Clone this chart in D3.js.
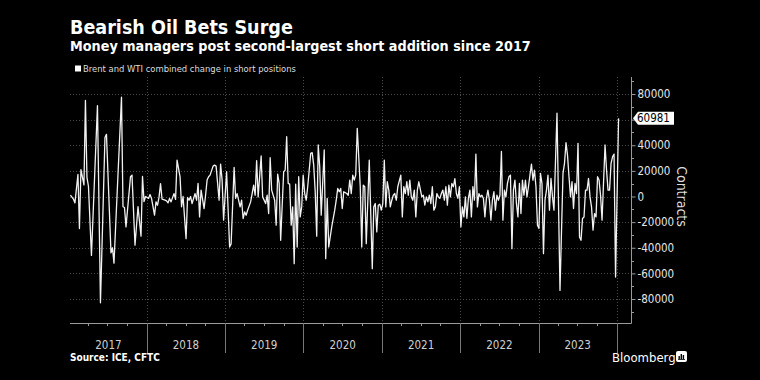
<!DOCTYPE html>
<html><head><meta charset="utf-8">
<script src="https://cdn.jsdelivr.net/npm/d3@7"></script>
<style>
html,body{margin:0;padding:0;background:#000;}
svg{display:block;}
</style></head><body>
<svg id="c" width="760" height="380"></svg>
<script>
const title = "Bearish Oil Bets Surge";
const subtitle = "Money managers post second-largest short addition since 2017";
const legendLabel = "Brent and WTI combined change in short positions";
const sourceText = "Source: ICE, CFTC";
const axisTitle = "Contracts";
const firstReport = "2017-01-10";
// week number after first report (weekly COT data)
const weekNo = [
  0,2,3,5,6,7,9,10,11,12,
  14,18,20,23,24,27,28,29,34,35,
  36,37,40,41,43,45,47,48,49,50,
  52,53,54,56,57,58,59,60,61,63,
  64,65,66,67,69,70,71,73,74,75,
  77,78,79,80,81,83,84,85,86,87,
  89,90,91,92,93,95,96,97,99,100,
  101,102,104,106,107,109,110,111,113,114,
  115,116,117,118,120,121,122,123,124,125,
  127,128,130,131,132,133,134,136,137,138,
  139,140,142,143,144,145,146,147,148,149,
  150,151,152,153,154,155,156,157,158,160,
  161,162,163,164,165,166,167,169,170,171,
  172,174,176,177,178,179,180,181,182,184,
  185,186,187,188,189,190,191,193,194,195,
  196,197,199,201,202,203,204,205,206,207,
  208,209,210,211,212,213,214,215,216,217,
  218,220,221,222,223,224,225,226,227,228,
  229,230,231,232,234,235,236,237,238,239,
  240,241,242,243,244,245,246,247,248,249,
  250,251,252,253,254,255,256,257,258,259,
  260,261,262,263,264,265,266,267,268,269,
  270,271,272,273,274,275,276,277,278,279,
  280,281,282,283,284,285,286,287,288,289,
  290,291,292,293,294,295,296,297,298,299,
  300,301,302,303,304,305,306,307,308,309,
  310,311,312,313,314,315,316,317,318,319,
  320,321,322,324,326,328,329,330,331,332,
  333,334,335,336,337,338,339,340,341,342,
  343,344,345,346,347,348,349,350,351,352,
  353,354,356,357,358,359,360,361,362,363,
  365
];
// Brent and WTI combined change in short positions (contracts)
const shortChange = [
  1000,-2000,-5000,17200,-25000,21000,9000,75000,15000,8000,
  -46000,71000,-83000,46000,48500,-44000,-40000,-52000,77500,-8000,
  -8600,-23700,15400,16700,-38000,-8000,-31000,15600,-4000,0,
  -1500,1500,-1500,-14600,-4200,-6800,-500,10000,-2000,-2900,
  -3400,-5000,-1500,-4200,2300,-2300,28400,15400,-8000,0,
  -32900,-800,-2900,0,-5500,2300,-2900,10200,-15900,5000,
  -9400,1000,12800,15400,16700,23700,24500,23700,-2900,25300,
  12800,-18500,19300,-39400,-37000,22700,-1500,2300,-8100,-2900,
  -17200,-12000,-14600,-10700,-4200,2300,8900,1000,28000,-300,
  31600,-300,-5500,1000,-13300,30300,5000,-2900,-22400,17500,
  10200,-34200,19300,20600,46700,10200,9600,-22400,-8100,-52400,
  9600,-39400,15400,-15900,-8100,16700,2300,-2900,7600,33600,
  34200,24500,3700,-31000,40200,23200,-14600,36300,-48500,-1500,
  -39400,-23700,-10700,-2900,6300,3700,6300,-9400,3700,2300,
  1000,12800,2300,16700,12800,17000,53200,7600,-39400,8900,
  7600,-36800,28400,-56300,-8100,-5500,-27600,-6800,-6000,-10700,
  -5500,28400,-8100,11500,5000,-8100,-2900,1000,2300,-2900,
  7600,16700,-15900,7600,2300,11500,1000,12800,-300,-2900,
  5000,-15900,5000,11500,-300,1000,-6800,-300,-4200,1000,
  -5500,7600,-10700,-8100,2300,-300,-1500,2300,5000,-2900,
  7600,-6800,8900,-300,10200,7600,14000,2300,-1500,7600,
  -23700,-8100,-15900,-300,-17000,-1500,5000,-15900,7600,-2900,
  33100,-8100,2300,-300,1000,-1500,-15900,-1500,5000,-2900,
  -18500,-2900,3700,-10700,1000,-2900,1000,35200,-18500,5000,
  -300,10200,15400,16700,-40700,5000,12800,-5500,-15900,10200,
  -13300,12800,1000,12800,-300,7600,16700,25300,12800,20600,
  7600,-22400,-25000,18000,10200,-44600,-2900,5000,16700,-10700,
  14100,-300,-10700,65000,-73300,18000,25800,42000,32300,15400,
  -300,11500,-9400,10200,2300,41500,-31600,-34200,-17200,-16000,
  5000,5000,14100,-300,-8100,-26300,-13300,-15900,15400,12800,
  1000,-18500,40200,20600,5000,5000,25800,31000,33100,-62900,
  60981
];
const yTicks = [-80000,-60000,-40000,-20000,0,20000,40000,60000,80000];
const yMinorTicks = [-90000,-70000,-50000,-30000,-10000,10000,30000,50000,70000,90000];
const yearLabels = [2017,2018,2019,2020,2021,2022,2023];
const yearBoundaries = ["2018-01-01","2019-01-01","2020-01-01","2021-01-01","2022-01-01","2023-01-01","2024-01-01"];
const quarterTickMonths = [3,6,9];
const lastLabel = "60981";

const svg = d3.select("#c");
const FONT = "'DejaVu Sans Condensed','DejaVu Sans',sans-serif";
const parse = d3.timeParse("%Y-%m-%d");
const start = parse(firstReport);
const data = weekNo.map((w,i)=>({date:d3.timeDay.offset(start, 7*w), value:shortChange[i]}));

const L = 70, R = 631;
const x = d3.scaleTime().domain([new Date(2017,0,8), new Date(2024,2,7)]).range([L, R]);
const y = d3.scaleLinear().domain([-80000, 80000]).range([299, 94]);
const plotTop = 77, plotBottom = 323;

function fit(sel, w){
  const l = sel.node().getComputedTextLength();
  const fs = parseFloat(sel.attr("font-size"));
  sel.attr("font-size", fs*w/l);
}

// titles
fit(svg.append("text").attr("x",70).attr("y",34).attr("fill","#fff").attr("font-family",FONT)
  .attr("font-weight","bold").attr("font-size",18).text(title), 223);
fit(svg.append("text").attr("x",70).attr("y",51).attr("fill","#fff").attr("font-family",FONT)
  .attr("font-weight","bold").attr("font-size",13).text(subtitle), 461);
svg.append("rect").attr("x",75).attr("y",65.5).attr("width",6).attr("height",6).attr("fill","#fff");
fit(svg.append("text").attr("x",83).attr("y",72).attr("fill","#ddd").attr("font-family",FONT)
  .attr("font-size",10).text(legendLabel), 213);

// gridlines
const grid = svg.append("g").attr("stroke","#4a4a4a").attr("stroke-width",1).attr("stroke-dasharray","1,2");
grid.selectAll("line.h").data(yTicks).join("line")
  .attr("x1",L).attr("x2",R).attr("y1",d=>Math.round(y(d))+0.5).attr("y2",d=>Math.round(y(d))+0.5);
grid.selectAll("line.v").data(yearBoundaries.map(parse)).join("line")
  .attr("x1",d=>Math.round(x(d))+0.5).attr("x2",d=>Math.round(x(d))+0.5).attr("y1",plotTop).attr("y2",plotBottom);

// axes lines
const axc = "#9a9a9a";
svg.append("line").attr("x1",L).attr("x2",R+0.5).attr("y1",plotBottom+0.5).attr("y2",plotBottom+0.5).attr("stroke",axc);
svg.append("line").attr("x1",R+0.5).attr("x2",R+0.5).attr("y1",plotTop).attr("y2",plotBottom+0.5).attr("stroke",axc);

// y axis ticks & labels
const ya = svg.append("g").attr("transform",`translate(${R+0.5},0)`)
  .call(d3.axisRight(y).tickValues(yTicks).tickSize(4).tickPadding(2).tickFormat(d=>String(d)));
ya.select(".domain").remove();
ya.selectAll(".tick line").attr("stroke",axc);
ya.selectAll(".tick text").attr("fill","#e6e6e6").attr("font-family",FONT).attr("font-size",11.5);
svg.append("g").selectAll("line").data(yMinorTicks).join("line")
  .attr("x1",R).attr("x2",R+3).attr("y1",d=>Math.round(y(d))+0.5).attr("y2",d=>Math.round(y(d))+0.5).attr("stroke",axc);

svg.append("text").attr("transform",`translate(682,${y(0)}) rotate(90)`).attr("text-anchor","middle")
  .attr("dominant-baseline","central").attr("fill","#ddd").attr("font-family",FONT).attr("font-size",14).text(axisTitle);

// x axis: year separators, quarter ticks, labels
const years = yearBoundaries.map(parse);
svg.append("g").selectAll("line").data(years).join("line")
  .attr("x1",d=>Math.round(x(d))+0.5).attr("x2",d=>Math.round(x(d))+0.5).attr("y1",plotBottom).attr("y2",plotBottom+30).attr("stroke","#777");
const qTicks = [];
yearLabels.forEach(yr=>quarterTickMonths.forEach(m=>qTicks.push(new Date(yr,m,1))));
svg.append("g").selectAll("line").data(qTicks.filter(d=>x(d)>L)).join("line")
  .attr("x1",d=>Math.round(x(d))+0.5).attr("x2",d=>Math.round(x(d))+0.5).attr("y1",plotBottom).attr("y2",plotBottom+3).attr("stroke",axc);
svg.append("g").selectAll("text").data(yearLabels).join("text")
  .attr("x",d=>{const a=Math.max(L,x(new Date(d,0,1))), b=x(new Date(d+1,0,1)); return (a+b)/2;})
  .attr("y",349).attr("text-anchor","middle").attr("fill","#d0d0d0").attr("font-family",FONT).attr("font-size",11.5).text(d=>d);

// line
svg.append("path").datum(data).attr("fill","none").attr("stroke","#f2f2f2").attr("stroke-width",1.3)
  .attr("stroke-linejoin","round")
  .attr("d", d3.line().x(d=>x(d.date)).y(d=>y(d.value)));

// last value label
const last = data[data.length-1];
const ly = y(last.value);
svg.append("path").attr("fill","#fff")
  .attr("d",`M${R+2},${ly} L${R+7},${ly-6.5} L${R+43},${ly-6.5} L${R+43},${ly+6.5} L${R+7},${ly+6.5} Z`);
svg.append("text").attr("x",R+6).attr("y",ly).attr("dominant-baseline","central").attr("fill","#000")
  .attr("font-family",FONT).attr("font-size",11.5).text(lastLabel);

// footer
svg.append("text").attr("x",70).attr("y",361).attr("fill","#fff").attr("font-family",FONT)
  .attr("font-weight","bold").attr("font-size",10).text(sourceText);
svg.append("text").attr("x",612).attr("y",362).attr("fill","#fff").attr("font-family",FONT)
  .attr("font-size",13).text("Bloomberg");
const ic = svg.append("g").attr("transform","translate(676,351)");
ic.append("rect").attr("width",11).attr("height",11).attr("rx",2).attr("fill","#fff");
[[2.5,5,1.4],[4.6,3,1.4],[6.7,4,1.4]].forEach(([bx,by,bw])=>ic.append("rect").attr("x",bx).attr("y",by).attr("width",bw).attr("height",8-by).attr("fill","#000"));
ic.append("rect").attr("x",2).attr("y",8.2).attr("width",7).attr("height",0.8).attr("fill","#000");
</script>
</body></html>
